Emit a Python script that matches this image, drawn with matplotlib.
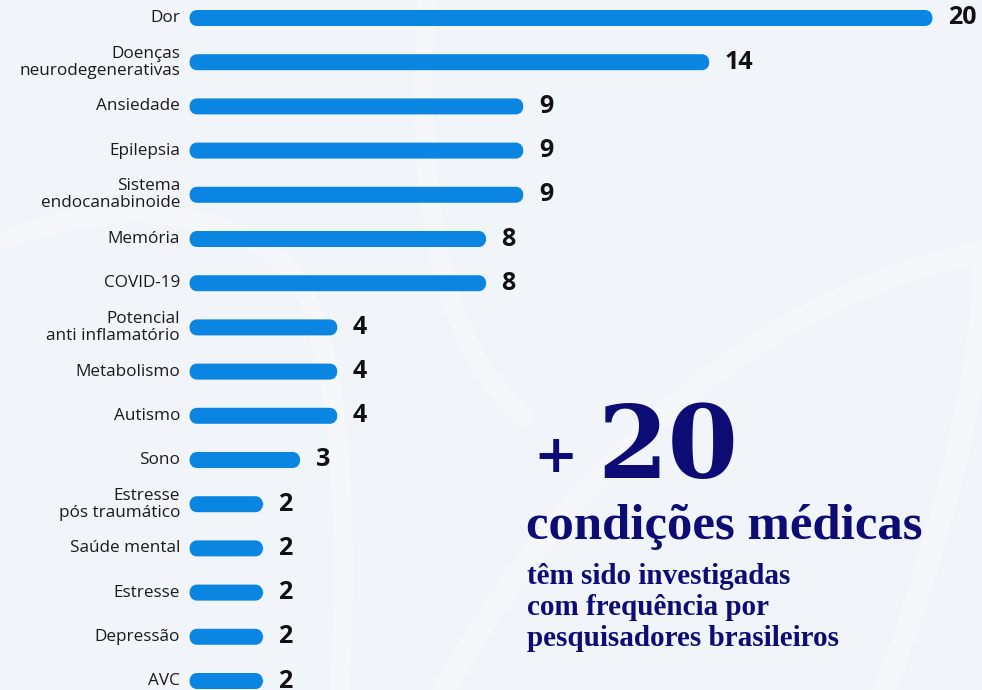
import numpy as np
import matplotlib
matplotlib.use('Agg')
import matplotlib.pyplot as plt
from matplotlib.patches import FancyBboxPatch, PathPatch
from matplotlib.path import Path

categories = ['Dor', 'Doenças\nneurodegenerativas', 'Ansiedade', 'Epilepsia',
              'Sistema\nendocanabinoide', 'Memória', 'COVID-19',
              'Potencial\nanti inflamatório', 'Metabolismo', 'Autismo', 'Sono',
              'Estresse\npós traumático', 'Saúde mental', 'Estresse',
              'Depressão', 'AVC']
values = [20, 14, 9, 9, 9, 8, 8, 4, 4, 4, 3, 2, 2, 2, 2, 2]

headline_number = '20'
headline_text = 'condições médicas'
sub_text = 'têm sido investigadas\ncom frequência por\npesquisadores brasileiros'

bg = '#f1f4f9'
bar_color = '#0a86e2'
navy = '#0c0c74'

W, H = 982, 690
px_x = 37.2   # pixels per value unit
px_y = 44.2   # pixels per row
x0_px = 189
y0_px = 18

fig = plt.figure(figsize=(W / 100, H / 100), dpi=100, facecolor=bg)
ax = fig.add_axes([0, 0, 1, 1])
ax.set_facecolor(bg)
ax.set_xlim(-x0_px / px_x, (W - x0_px) / px_x)
ax.set_ylim((H - y0_px) / px_y, -y0_px / px_y)
ax.axis('off')

# faint leaf outlines in the background
def stroke(pts, lw):
    codes = [Path.MOVETO] + [Path.CURVE4] * (len(pts) - 1)
    ax.add_patch(PathPatch(Path(pts, codes), facecolor='none', edgecolor='white',
                           lw=lw, alpha=0.3, capstyle='round', zorder=0))

# big leaf, lower right
stroke([(6.6, 15.6), (9.5, 11.0), (14.5, 6.5), (21.2, 5.3),
        (21.8, 6.0), (20.5, 11.5), (18.5, 15.6)], 16)
# left leaf
stroke([(-4.9, 5.0), (-2.0, 4.0), (1.5, 4.3), (3.0, 6.0),
        (4.2, 8.0), (4.3, 12.0), (4.0, 16.0)], 14)
# stem near the middle
stroke([(6.4, -0.5), (6.0, 4.0), (6.8, 7.5), (9.0, 9.0)], 14)

rows = np.arange(len(values))
bar_h = 16 / px_y
aspect = px_x / px_y
rs = 8 / px_x

for i, v in zip(rows, values):
    box = FancyBboxPatch((0, i - bar_h / 2), v, bar_h,
                         boxstyle=f'round,pad=0,rounding_size={rs}',
                         mutation_aspect=1 / aspect,
                         facecolor=bar_color, edgecolor='none', zorder=2)
    ax.add_patch(box)
    ax.text(v + 15 / px_x, i, str(v), ha='left', va='center',
            fontsize=18, fontweight='bold', family='Open Sans', color='#111111')
    ax.text(-9 / px_x, i, categories[i], ha='right', va='center',
            fontsize=12.3, family='Open Sans', color='#1a1a1a', linespacing=1.1)

# right text block (figure pixel coordinates)
def fx(px):
    return px / W

def fy(py):
    return 1 - py / H

fig.text(fx(533), fy(472), '+', fontsize=38, fontweight='bold', family='DejaVu Serif',
         color=navy, ha='left', va='baseline')
fig.text(fx(597), fy(478), headline_number, fontsize=73, fontweight='bold',
         family='DejaVu Serif', color=navy, ha='left', va='baseline')
fig.text(fx(526), fy(539), headline_text, fontsize=36.5, fontweight='bold',
         family='Liberation Serif', color=navy, ha='left', va='baseline')
fig.text(fx(527), fy(563), sub_text, fontsize=21, fontweight='bold',
         family='Liberation Serif', color=navy, ha='left', va='top',
         linespacing=1.2)

fig.savefig('out.png', dpi=100, facecolor=bg)
